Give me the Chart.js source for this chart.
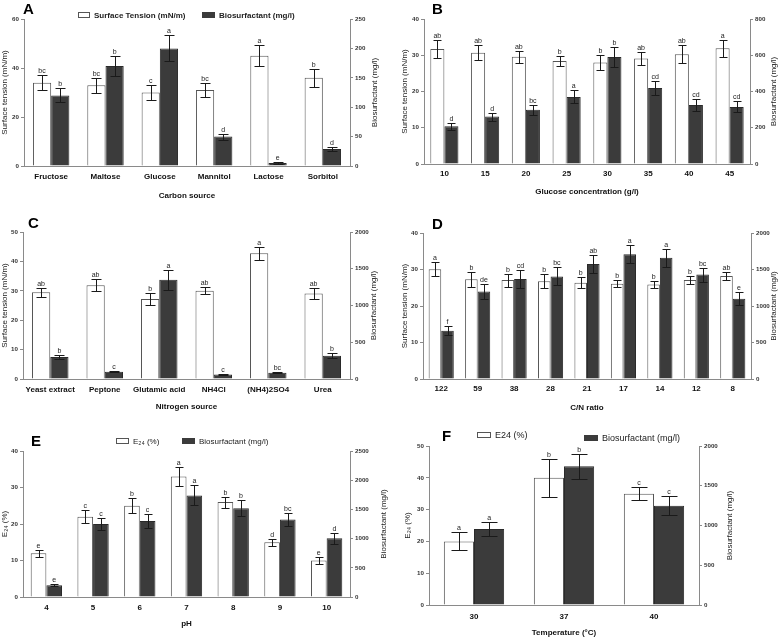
<!DOCTYPE html>
<html>
<head>
<meta charset="utf-8">
<script src="https://cdn.jsdelivr.net/npm/chart.js@4.4.0/dist/chart.umd.min.js"></script>
<style>
  body { margin: 0; background: #fff; width: 780px; height: 638px; position: relative; overflow: hidden; }
  canvas { position: absolute; }
</style>
</head>
<body>
<canvas id="chartA"></canvas>
<canvas id="chartB"></canvas>
<canvas id="chartC"></canvas>
<canvas id="chartD"></canvas>
<canvas id="chartE"></canvas>
<canvas id="chartF"></canvas>
<script>
// A - carbon source
const carbonSources = ['Fructose', 'Maltose', 'Glucose', 'Mannitol', 'Lactose', 'Sorbitol'];
const carbonTension = [34, 33, 30, 31, 45, 36];
const carbonTensionErr = [3, 3, 3, 3, 4.2, 3.7];
const carbonTensionLetters = ['bc', 'bc', 'c', 'bc', 'a', 'b'];
const carbonBio = [120, 170, 200, 50, 5, 29];
const carbonBioErr = [12, 17, 22, 5, 1, 3];
const carbonBioLetters = ['b', 'b', 'a', 'd', 'e', 'd'];

// B - glucose concentration
const glucoseConc = ['10', '15', '20', '25', '30', '35', '40', '45'];
const glucoseTension = [31.7, 30.7, 29.6, 28.4, 28.0, 29.1, 30.3, 31.9];
const glucoseTensionErr = [2.4, 2.1, 1.7, 1.5, 2.0, 1.8, 2.5, 2.4];
const glucoseTensionLetters = ['ab', 'ab', 'ab', 'b', 'b', 'ab', 'ab', 'a'];
const glucoseBio = [208, 262, 300, 370, 590, 420, 325, 315];
const glucoseBioErr = [18, 22, 28, 36, 56, 40, 34, 30];
const glucoseBioLetters = ['d', 'd', 'bc', 'a', 'b', 'cd', 'cd', 'cd'];

// C - nitrogen source
const nitrogenSources = ['Yeast extract', 'Peptone', 'Glutamic acid', 'NH4Cl', '(NH4)2SO4', 'Urea'];
const nitrogenTension = [29.5, 31.9, 27.2, 30, 42.8, 29.1];
const nitrogenTensionErr = [1.6, 2, 2.1, 1.2, 2.2, 2];
const nitrogenTensionLetters = ['ab', 'ab', 'b', 'ab', 'a', 'ab'];
const nitrogenBio = [300, 100, 1350, 60, 86, 318];
const nitrogenBioErr = [30, 8, 136, 5, 8, 33];
const nitrogenBioLetters = ['b', 'c', 'a', 'c', 'bc', 'b'];

// D - C/N ratio
const cnRatios = ['122', '59', '38', '28', '21', '17', '14', '12', '8'];
const cnTension = [30.1, 27.3, 27.1, 26.8, 26.4, 26.1, 25.9, 27.1, 28.2];
const cnTensionErr = [1.9, 2, 1.8, 1.9, 1.5, 1, 1, 1.2, 1.1];
const cnTensionLetters = ['a', 'b', 'b', 'b', 'b', 'b', 'b', 'b', 'ab'];
const cnBio = [660, 1200, 1370, 1405, 1575, 1710, 1660, 1430, 1100];
const cnBioErr = [62, 103, 120, 124, 120, 124, 120, 96, 90];
const cnBioLetters = ['f', 'de', 'cd', 'bc', 'ab', 'a', 'a', 'bc', 'e'];

// E - pH
const phValues = ['4', '5', '6', '7', '8', '9', '10'];
const phE24 = [12, 22, 25, 33, 26, 15, 10];
const phE24Err = [1, 1.7, 2, 2.5, 1.5, 1, 1];
const phE24Letters = ['e', 'c', 'b', 'a', 'b', 'd', 'e'];
const phBio = [200, 1250, 1300, 1740, 1520, 1325, 1005];
const phBioErr = [20, 100, 115, 170, 134, 114, 97];
const phBioLetters = ['e', 'c', 'c', 'a', 'b', 'bc', 'd'];

// F - temperature
const temperatures = ['30', '37', '40'];
const tempE24 = [20, 40, 35];
const tempE24Err = [2.8, 6, 2.1];
const tempE24Letters = ['a', 'b', 'c'];
const tempBio = [955, 1744, 1250];
const tempBioErr = [84, 160, 120];
const tempBioLetters = ['a', 'b', 'c'];

Chart.defaults.font.family = '"Liberation Sans", Arial, sans-serif';
Chart.defaults.color = '#222';

var axisColor = '#8a8a8a';
var darkFill = '#3b3b3b';

// error bars, letters, legends, panel letters, right axis titles
const decorPlugin = {
    id: 'decor',
    afterDatasetsDraw(chart) {
        const ctx = chart.ctx;
        chart.data.datasets.forEach((ds, di) => {
            const meta = chart.getDatasetMeta(di);
            const ys = chart.scales[ds.yAxisID];
            meta.data.forEach((bar, i) => {
                const v = ds.data[i], e = ds.errors[i];
                const top = Math.round(ys.getPixelForValue(v + e)) + 0.5;
                const bot = Math.round(ys.getPixelForValue(Math.max(v - e, 0))) + 0.5;
                const x = Math.round(bar.x) + 0.5;
                const half = Math.round(bar.width * 0.28);
                ctx.save();
                ctx.strokeStyle = '#1a1a1a';
                ctx.lineWidth = 1;
                ctx.beginPath();
                ctx.moveTo(x, top); ctx.lineTo(x, bot);
                ctx.moveTo(x - half, top); ctx.lineTo(x + half, top);
                ctx.moveTo(x - half, bot); ctx.lineTo(x + half, bot);
                ctx.stroke();
                ctx.fillStyle = '#222';
                ctx.font = '7px "Liberation Sans", Arial, sans-serif';
                ctx.textAlign = 'center';
                ctx.textBaseline = 'alphabetic';
                ctx.fillText(ds.letters[i], bar.x, top - 3);
                ctx.restore();
            });
        });
    },
    afterDraw(chart, args, opts) {
        const ctx = chart.ctx;
        const area = chart.chartArea;
        ctx.save();
        // panel letter
        ctx.fillStyle = '#000';
        ctx.font = 'bold 15px "Liberation Sans", Arial, sans-serif';
        ctx.textAlign = 'left';
        ctx.textBaseline = 'alphabetic';
        ctx.fillText(opts.letter, opts.letterX, opts.letterY);
        // right axis title, reading upwards
        ctx.translate(opts.rightTitleX, (area.top + area.bottom) / 2);
        ctx.rotate(-Math.PI / 2);
        ctx.font = '8px "Liberation Sans", Arial, sans-serif';
        ctx.fillStyle = '#222';
        ctx.textAlign = 'center';
        ctx.textBaseline = 'middle';
        ctx.fillText(opts.rightTitle, 0, 0);
        ctx.restore();
        // legend
        (opts.legend || []).forEach(item => {
            ctx.save();
            ctx.fillStyle = item.dark ? darkFill : '#fff';
            ctx.strokeStyle = item.dark ? darkFill : '#555';
            ctx.lineWidth = 1;
            ctx.fillRect(item.x + 0.5, item.y - 2.5, item.w, 5);
            ctx.strokeRect(item.x + 0.5, item.y - 2.5, item.w, 5);
            ctx.fillStyle = '#222';
            ctx.font = (item.bold ? 'bold ' : '') + item.size + 'px "Liberation Sans", Arial, sans-serif';
            ctx.textAlign = 'left';
            ctx.textBaseline = 'middle';
            ctx.fillText(item.text, item.x + item.w + 5, item.y + 0.5);
            ctx.restore();
        });
    }
};

function buildPanel(id, p) {
    const c = p.canvas, a = p.area;
    const canvas = document.getElementById(id);
    canvas.width = c.w;
    canvas.height = c.h;
    canvas.style.left = c.x + 'px';
    canvas.style.top = c.y + 'px';
    const leftW = a.l - c.x, rightW = c.x + c.w - a.r;
    const topPad = a.t - c.y, bottomH = c.y + c.h - a.b;
    const yGrid = { display: true, drawOnChartArea: false, drawTicks: true, tickLength: 3, color: axisColor };
    const yTicks = { font: { size: 6.2, weight: 'bold' }, color: '#333', padding: 2, callback: v => String(v) };
    const legend = (p.legend || []).map(item => Object.assign({}, item, { x: item.x - c.x, y: item.y - c.y }));

    return new Chart(canvas, {
        type: 'bar',
        data: {
            labels: p.labels,
            datasets: [{
                data: p.left,
                errors: p.leftErr,
                letters: p.leftLetters,
                yAxisID: 'y',
                backgroundColor: '#fff',
                borderColor: '#555',
                borderWidth: 1,
                categoryPercentage: p.catPct,
                barPercentage: 1
            }, {
                data: p.right,
                errors: p.rightErr,
                letters: p.rightLetters,
                yAxisID: 'y1',
                backgroundColor: darkFill,
                borderColor: '#2a2a2a',
                borderWidth: 1,
                categoryPercentage: p.catPct,
                barPercentage: 1
            }]
        },
        options: {
            responsive: false,
            animation: false,
            layout: { padding: { top: topPad, left: 0, right: 0, bottom: 0 } },
            plugins: {
                legend: { display: false },
                tooltip: { enabled: false },
                decor: {
                    letter: p.letter,
                    letterX: p.letterPos[0] - c.x,
                    letterY: p.letterPos[1] - c.y,
                    rightTitle: p.rightTitle,
                    rightTitleX: p.rightTitleX - c.x,
                    legend: legend
                }
            },
            scales: {
                x: {
                    grid: { display: false, drawTicks: false },
                    border: { display: true, color: axisColor, width: 1 },
                    ticks: { font: { size: 8, weight: 'bold' }, color: '#111', padding: p.catLabelY - a.b - 4.8, maxRotation: 0, autoSkip: false },
                    title: { display: true, text: p.xTitle, font: { size: 8, weight: 'bold' }, color: '#111',
                        padding: { top: 0, bottom: c.y + c.h - p.xTitleY - 4.8 } },
                    afterFit: s => { s.height = bottomH; }
                },
                y: {
                    position: 'left',
                    min: 0,
                    max: p.leftMax,
                    ticks: Object.assign({ stepSize: p.leftStep }, yTicks),
                    grid: yGrid,
                    border: { display: true, color: axisColor, width: 1 },
                    title: { display: true, text: p.leftTitle, font: { size: 8 }, color: '#222',
                        padding: { top: Math.max(p.leftTitleX - c.x - 4.8, 0), bottom: 0 } },
                    afterFit: s => { s.width = leftW; }
                },
                y1: {
                    position: 'right',
                    min: 0,
                    max: p.rightMax,
                    ticks: Object.assign({ stepSize: p.rightStep }, yTicks),
                    grid: yGrid,
                    border: { display: true, color: axisColor, width: 1 },
                    afterFit: s => { s.width = rightW; }
                }
            }
        },
        plugins: [decorPlugin]
    });
}

var chartA = buildPanel('chartA', {
    canvas: { x: 0, y: 0, w: 390, h: 210 },
    area: { l: 24, r: 350, t: 19, b: 166 },
    labels: carbonSources,
    left: carbonTension, leftErr: carbonTensionErr, leftLetters: carbonTensionLetters,
    right: carbonBio, rightErr: carbonBioErr, rightLetters: carbonBioLetters,
    leftMax: 60, leftStep: 20, rightMax: 250, rightStep: 50,
    catPct: 0.67,
    leftTitle: 'Surface tension (mN/m)', leftTitleX: 5,
    rightTitle: 'Biosurfactant (mg/l)', rightTitleX: 375,
    xTitle: 'Carbon source', xTitleY: 196, catLabelY: 177,
    letter: 'A', letterPos: [23, 14],
    legend: [
        { x: 78, y: 15, w: 11, text: 'Surface Tension (mN/m)', bold: true, size: 8 },
        { x: 202, y: 15, w: 12, text: 'Biosurfactant (mg/l)', bold: true, size: 8, dark: true }
    ]
});

var chartB = buildPanel('chartB', {
    canvas: { x: 390, y: 0, w: 390, h: 210 },
    area: { l: 424, r: 750, t: 19, b: 164 },
    labels: glucoseConc,
    left: glucoseTension, leftErr: glucoseTensionErr, leftLetters: glucoseTensionLetters,
    right: glucoseBio, rightErr: glucoseBioErr, rightLetters: glucoseBioLetters,
    leftMax: 40, leftStep: 10, rightMax: 800, rightStep: 200,
    catPct: 0.69,
    leftTitle: 'Surface tension (mN/m)', leftTitleX: 405,
    rightTitle: 'Biosurfactant (mg/l)', rightTitleX: 774,
    xTitle: 'Glucose concentration (g/l)', xTitleY: 192, catLabelY: 174,
    letter: 'B', letterPos: [432, 14]
});

var chartC = buildPanel('chartC', {
    canvas: { x: 0, y: 210, w: 390, h: 205 },
    area: { l: 23, r: 350, t: 232, b: 379 },
    labels: nitrogenSources,
    left: nitrogenTension, leftErr: nitrogenTensionErr, leftLetters: nitrogenTensionLetters,
    right: nitrogenBio, rightErr: nitrogenBioErr, rightLetters: nitrogenBioLetters,
    leftMax: 50, leftStep: 10, rightMax: 2000, rightStep: 500,
    catPct: 0.67,
    leftTitle: 'Surface tension (mN/m)', leftTitleX: 5,
    rightTitle: 'Biosurfactant (mg/l)', rightTitleX: 374,
    xTitle: 'Nitrogen source', xTitleY: 407, catLabelY: 390,
    letter: 'C', letterPos: [28, 228]
});

var chartD = buildPanel('chartD', {
    canvas: { x: 390, y: 210, w: 390, h: 205 },
    area: { l: 423, r: 751, t: 233, b: 379 },
    labels: cnRatios,
    left: cnTension, leftErr: cnTensionErr, leftLetters: cnTensionLetters,
    right: cnBio, rightErr: cnBioErr, rightLetters: cnBioLetters,
    leftMax: 40, leftStep: 10, rightMax: 2000, rightStep: 500,
    catPct: 0.69,
    leftTitle: 'Surface tension (mN/m)', leftTitleX: 405,
    rightTitle: 'Biosurfactant (mg/l)', rightTitleX: 774,
    xTitle: 'C/N ratio', xTitleY: 408, catLabelY: 389,
    letter: 'D', letterPos: [432, 229]
});

var chartE = buildPanel('chartE', {
    canvas: { x: 0, y: 415, w: 390, h: 223 },
    area: { l: 23, r: 350, t: 451, b: 597 },
    labels: phValues,
    left: phE24, leftErr: phE24Err, leftLetters: phE24Letters,
    right: phBio, rightErr: phBioErr, rightLetters: phBioLetters,
    leftMax: 40, leftStep: 10, rightMax: 2500, rightStep: 500,
    catPct: 0.67,
    leftTitle: 'E\u2082\u2084 (%)', leftTitleX: 5,
    rightTitle: 'Biosurfactant (mg/l)', rightTitleX: 384,
    xTitle: 'pH', xTitleY: 624, catLabelY: 608,
    letter: 'E', letterPos: [31, 446],
    legend: [
        { x: 116, y: 441, w: 12, text: 'E\u2082\u2084 (%)', size: 8 },
        { x: 182, y: 441, w: 12, text: 'Biosurfactant (mg/l)', size: 8, dark: true }
    ]
});

var chartF = buildPanel('chartF', {
    canvas: { x: 390, y: 415, w: 390, h: 223 },
    area: { l: 429, r: 699, t: 446, b: 605 },
    labels: temperatures,
    left: tempE24, leftErr: tempE24Err, leftLetters: tempE24Letters,
    right: tempBio, rightErr: tempBioErr, rightLetters: tempBioLetters,
    leftMax: 50, leftStep: 10, rightMax: 2000, rightStep: 500,
    catPct: 0.67,
    leftTitle: 'E\u2082\u2084 (%)', leftTitleX: 408,
    rightTitle: 'Biosurfactant (mg/l)', rightTitleX: 730,
    xTitle: 'Temperature (\u00B0C)', xTitleY: 633, catLabelY: 617,
    letter: 'F', letterPos: [442, 441],
    legend: [
        { x: 477, y: 435, w: 13, text: 'E24 (%)', size: 9 },
        { x: 584, y: 438, w: 13, text: 'Biosurfactant (mg/l)', size: 9, dark: true }
    ]
});
</script>
</body>
</html>
